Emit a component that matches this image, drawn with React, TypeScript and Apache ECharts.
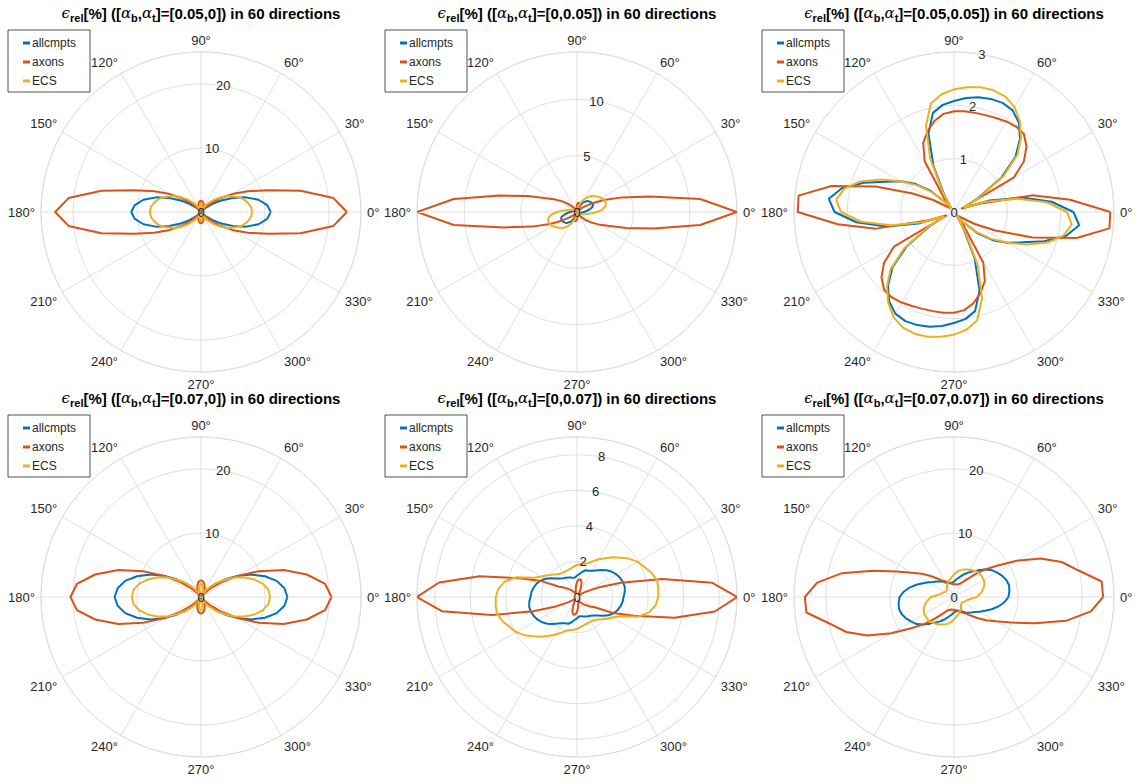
import React, { useEffect, useRef } from 'react';
import * as echarts from 'echarts';

// 60 gradient directions (degrees)
const DIRECTIONS = [
  0, 6, 12, 18, 24, 30, 36, 42, 48, 54, 60, 66, 72, 78, 84, 90, 96, 102, 108, 114,
  120, 126, 132, 138, 144, 150, 156, 162, 168, 174, 180, 186, 192, 198, 204, 210, 216, 222, 228, 234,
  240, 246, 252, 258, 264, 270, 276, 282, 288, 294, 300, 306, 312, 318, 324, 330, 336, 342, 348, 354,
];

const SERIES_NAMES = ['allcmpts', 'axons', 'ECS'];
const SERIES_COLORS = ['#0072BD', '#D95319', '#EDB120'];

const TITLE_PARAMS = ['[0.05,0]', '[0,0.05]', '[0.05,0.05]', '[0.07,0]', '[0,0.07]', '[0.07,0.07]'];
const R_MAX = [25, 14.2, 3, 25, 9, 25];
const R_TICK_STEP = [10, 5, 1, 10, 2, 10];

// ---- [0.05,0]
const p1Allcmpts = [
  10.9, 10.4, 9.2, 7.4, 5.4, 3.5, 2.1, 1.1, 0.5, 0.2, 0.1, 0.15, 0.25, 0.35, 0.4, 0.4, 0.4, 0.35, 0.25, 0.15, 0.1, 0.2, 0.5, 1.1, 2.1, 3.5, 5.4, 7.4, 9.2, 10.4,
  10.9, 10.4, 9.2, 7.4, 5.4, 3.5, 2.1, 1.1, 0.5, 0.2, 0.1, 0.15, 0.25, 0.35, 0.4, 0.4, 0.4, 0.35, 0.25, 0.15, 0.1, 0.2, 0.5, 1.1, 2.1, 3.5, 5.4, 7.4, 9.2, 10.4,
];
const p1Axons = [
  22.8, 20.8, 15.9, 11.0, 8.0, 5.6, 3.6, 2.0, 0.9, 0.3, 0.5, 0.9, 1.3, 1.55, 1.7, 1.75, 1.7, 1.55, 1.3, 0.9, 0.5, 0.3, 0.9, 2.0, 3.6, 5.6, 8.0, 11.0, 15.9, 20.8,
  22.8, 20.8, 15.9, 11.0, 8.0, 5.6, 3.6, 2.0, 0.9, 0.3, 0.5, 0.9, 1.3, 1.55, 1.7, 1.75, 1.7, 1.55, 1.3, 0.9, 0.5, 0.3, 0.9, 2.0, 3.6, 5.6, 8.0, 11.0, 15.9, 20.8,
];
const p1ECS = [
  8.0, 7.85, 7.4, 6.8, 5.9, 5.0, 4.0, 3.0, 2.1, 1.4, 0.8, 0.4, 0.3, 0.8, 1.3, 1.5, 1.3, 0.8, 0.3, 0.4, 0.8, 1.4, 2.1, 3.0, 4.0, 5.0, 5.9, 6.8, 7.4, 7.85,
  8.0, 7.85, 7.4, 6.8, 5.9, 5.0, 4.0, 3.0, 2.1, 1.4, 0.8, 0.4, 0.3, 0.8, 1.3, 1.5, 1.3, 0.8, 0.3, 0.4, 0.8, 1.4, 2.1, 3.0, 4.0, 5.0, 5.9, 6.8, 7.4, 7.85,
];

// ---- [0,0.05]
const p2Allcmpts = [
  0.6, 0.85, 1.15, 1.45, 1.55, 1.55, 1.5, 1.42, 1.3, 1.1, 0.9, 0.6, 0.35, 0.2, 0.12, 0.1, 0.1, 0.1, 0.1, 0.1, 0.1, 0.1, 0.1, 0.12, 0.15, 0.2, 0.25, 0.3, 0.38, 0.45,
  0.6, 0.85, 1.15, 1.45, 1.55, 1.55, 1.5, 1.42, 1.3, 1.1, 0.9, 0.6, 0.35, 0.2, 0.12, 0.1, 0.1, 0.1, 0.1, 0.1, 0.1, 0.1, 0.1, 0.12, 0.15, 0.2, 0.25, 0.3, 0.38, 0.45,
];
const p2Axons = [
  14.2, 11.0, 6.6, 4.2, 2.6, 1.5, 0.8, 0.4, 0.2, 0.2, 0.35, 0.55, 0.75, 0.85, 0.8, 0.65, 0.45, 0.25, 0.15, 0.1, 0.2, 0.4, 0.7, 1.1, 1.6, 2.2, 3.0, 4.6, 7.0, 11.0,
  14.2, 11.0, 6.6, 4.2, 2.6, 1.5, 0.8, 0.4, 0.2, 0.2, 0.35, 0.55, 0.75, 0.85, 0.8, 0.65, 0.45, 0.25, 0.15, 0.1, 0.2, 0.4, 0.7, 1.1, 1.6, 2.2, 3.0, 4.6, 7.0, 11.0,
];
const p2ECS = [
  1.8, 2.3, 2.6, 2.68, 2.65, 2.5, 2.3, 2.1, 1.9, 1.65, 1.35, 1.0, 0.7, 0.45, 0.3, 0.2, 0.15, 0.12, 0.1, 0.1, 0.12, 0.15, 0.2, 0.25, 0.3, 0.4, 0.5, 0.65, 0.85, 1.2,
  1.8, 2.3, 2.6, 2.68, 2.65, 2.5, 2.3, 2.1, 1.9, 1.65, 1.35, 1.0, 0.7, 0.45, 0.3, 0.2, 0.15, 0.12, 0.1, 0.1, 0.12, 0.15, 0.2, 0.25, 0.3, 0.4, 0.5, 0.65, 0.85, 1.2,
];

// ---- [0.05,0.05]
const p3Allcmpts = [
  2.24, 1.84, 1.3, 0.7, 0.2, 0.5, 1.1, 1.55, 1.85, 2.07, 2.2, 2.24, 2.23, 2.2, 2.15, 2.08, 2.02, 1.9, 1.55, 0.95, 0.35, 0.1, 0.25, 0.6, 0.9, 1.15, 1.4, 1.78, 2.15, 2.36,
  2.24, 1.84, 1.3, 0.7, 0.2, 0.5, 1.1, 1.55, 1.85, 2.07, 2.2, 2.24, 2.23, 2.2, 2.15, 2.08, 2.02, 1.9, 1.55, 0.95, 0.35, 0.1, 0.25, 0.6, 0.9, 1.15, 1.4, 1.78, 2.15, 2.36,
];
const p3Axons = [
  2.93, 2.19, 1.5, 0.5, 0.15, 1.3, 1.62, 1.83, 1.96, 1.98, 1.96, 1.93, 1.91, 1.9, 1.9, 1.89, 1.85, 1.75, 1.6, 1.42, 1.1, 0.3, 0.1, 0.1, 0.2, 0.45, 0.85, 1.55, 2.35, 2.93,
  2.93, 2.19, 1.5, 0.5, 0.15, 1.3, 1.62, 1.83, 1.96, 1.98, 1.96, 1.93, 1.91, 1.9, 1.9, 1.89, 1.85, 1.75, 1.6, 1.42, 1.1, 0.3, 0.1, 0.1, 0.2, 0.45, 0.85, 1.55, 2.35, 2.93,
];
const p3ECS = [
  2.12, 1.75, 1.2, 0.62, 0.2, 0.55, 1.15, 1.6, 1.88, 2.1, 2.27, 2.37, 2.4, 2.39, 2.35, 2.3, 2.22, 2.08, 1.7, 1.1, 0.4, 0.1, 0.25, 0.55, 0.85, 1.15, 1.5, 1.85, 2.1, 2.22,
  2.12, 1.75, 1.2, 0.62, 0.2, 0.55, 1.15, 1.6, 1.88, 2.1, 2.27, 2.37, 2.4, 2.39, 2.35, 2.3, 2.22, 2.08, 1.7, 1.1, 0.4, 0.1, 0.25, 0.55, 0.85, 1.15, 1.5, 1.85, 2.1, 2.22,
];

// ---- [0.07,0]
const p4Allcmpts = [
  13.5, 13.1, 12.1, 10.5, 8.6, 6.6, 4.7, 3.1, 1.8, 0.95, 0.4, 0.15, 0.2, 0.35, 0.45, 0.5, 0.45, 0.35, 0.2, 0.15, 0.4, 0.95, 1.8, 3.1, 4.7, 6.6, 8.6, 10.5, 12.1, 13.1,
  13.5, 13.1, 12.1, 10.5, 8.6, 6.6, 4.7, 3.1, 1.8, 0.95, 0.4, 0.15, 0.2, 0.35, 0.45, 0.5, 0.45, 0.35, 0.2, 0.15, 0.4, 0.95, 1.8, 3.1, 4.7, 6.6, 8.6, 10.5, 12.1, 13.1,
];
const p4Axons = [
  20.4, 19.5, 16.9, 13.6, 9.9, 6.6, 3.9, 2.0, 0.8, 0.4, 0.9, 1.4, 1.85, 2.25, 2.5, 2.6, 2.5, 2.25, 1.85, 1.4, 0.9, 0.4, 0.8, 2.0, 3.9, 6.6, 9.9, 13.6, 16.9, 19.5,
  20.4, 19.5, 16.9, 13.6, 9.9, 6.6, 3.9, 2.0, 0.8, 0.4, 0.9, 1.4, 1.85, 2.25, 2.5, 2.6, 2.5, 2.25, 1.85, 1.4, 0.9, 0.4, 0.8, 2.0, 3.9, 6.6, 9.9, 13.6, 16.9, 19.5,
];
const p4ECS = [
  10.8, 10.6, 9.9, 8.8, 7.5, 6.1, 4.6, 3.3, 2.2, 1.3, 0.7, 0.3, 0.5, 1.3, 1.9, 2.1, 1.9, 1.3, 0.5, 0.3, 0.7, 1.3, 2.2, 3.3, 4.6, 6.1, 7.5, 8.8, 9.9, 10.6,
  10.8, 10.6, 9.9, 8.8, 7.5, 6.1, 4.6, 3.3, 2.2, 1.3, 0.7, 0.3, 0.5, 1.3, 1.9, 2.1, 1.9, 1.3, 0.5, 0.3, 0.7, 1.3, 2.2, 3.3, 4.6, 6.1, 7.5, 8.8, 9.9, 10.6,
];

// ---- [0,0.07]
const p5Allcmpts = [
  2.62, 2.7, 2.75, 2.72, 2.65, 2.55, 2.42, 2.25, 2.05, 1.85, 1.7, 1.62, 1.58, 1.45, 1.3, 1.2, 1.1, 1.1, 1.15, 1.2, 1.25, 1.3, 1.4, 1.55, 1.8, 2.05, 2.25, 2.4, 2.5, 2.58,
  2.62, 2.7, 2.75, 2.72, 2.65, 2.55, 2.42, 2.25, 2.05, 1.85, 1.7, 1.62, 1.58, 1.45, 1.3, 1.2, 1.1, 1.1, 1.15, 1.2, 1.25, 1.3, 1.4, 1.55, 1.8, 2.05, 2.25, 2.4, 2.5, 2.58,
];
const p5Axons = [
  9.0, 7.65, 4.9, 2.6, 1.3, 0.6, 0.35, 0.2, 0.15, 0.15, 0.25, 0.5, 0.85, 1.0, 1.0, 0.85, 0.6, 0.35, 0.2, 0.2, 0.3, 0.4, 0.55, 0.7, 0.9, 1.16, 2.2, 3.4, 5.6, 7.8,
  9.0, 7.65, 4.9, 2.6, 1.3, 0.6, 0.35, 0.2, 0.15, 0.15, 0.25, 0.5, 0.85, 1.0, 1.0, 0.85, 0.6, 0.35, 0.2, 0.2, 0.3, 0.4, 0.55, 0.7, 0.9, 1.16, 2.2, 3.4, 5.6, 7.8,
];
const p5ECS = [
  4.57, 4.6, 4.6, 4.4, 4.15, 3.95, 3.65, 3.3, 3.0, 2.7, 2.45, 2.2, 2.0, 1.9, 1.85, 1.8, 1.72, 1.65, 1.6, 1.58, 1.58, 1.62, 1.72, 1.88, 2.08, 2.3, 2.65, 3.6, 4.15, 4.45,
  4.57, 4.6, 4.6, 4.4, 4.15, 3.95, 3.65, 3.3, 3.0, 2.7, 2.45, 2.2, 2.0, 1.9, 1.85, 1.8, 1.72, 1.65, 1.6, 1.58, 1.58, 1.62, 1.72, 1.88, 2.08, 2.3, 2.65, 3.6, 4.15, 4.45,
];

// ---- [0.07,0.07]
const p6Allcmpts = [
  8.5, 8.7, 8.8, 8.6, 8.2, 7.7, 7.2, 6.4, 5.6, 4.9, 4.4, 3.9, 3.4, 3.0, 2.7, 2.4, 2.3, 2.2, 2.25, 2.35, 2.6, 3.0, 3.3, 3.6, 4.0, 4.6, 5.3, 6.2, 7.1, 7.9,
  8.5, 8.7, 8.8, 8.6, 8.2, 7.7, 7.2, 6.4, 5.6, 4.9, 4.4, 3.9, 3.4, 3.0, 2.7, 2.4, 2.3, 2.2, 2.25, 2.35, 2.6, 3.0, 3.3, 3.6, 4.0, 4.6, 5.3, 6.2, 7.1, 7.9,
];
const p6Axons = [
  23.3, 23.2, 19.9, 17.7, 14.8, 11.3, 8.3, 6.4, 4.6, 3.4, 2.7, 2.3, 2.1, 2.0, 2.0, 2.0, 2.05, 2.15, 2.35, 2.6, 2.85, 3.2, 3.9, 4.9, 6.2, 7.6, 9.8, 13.3, 17.9, 21.5,
  23.3, 23.2, 19.9, 17.7, 14.8, 11.3, 8.3, 6.4, 4.6, 3.4, 2.7, 2.3, 2.1, 2.0, 2.0, 2.0, 2.05, 2.15, 2.35, 2.6, 2.85, 3.2, 3.9, 4.9, 6.2, 7.6, 9.8, 13.3, 17.9, 21.5,
];
const p6ECS = [
  3.6, 4.0, 4.5, 4.9, 5.2, 5.35, 5.4, 5.4, 5.3, 5.1, 4.9, 4.7, 4.5, 4.25, 3.9, 3.5, 3.15, 2.85, 2.6, 2.4, 2.2, 1.9, 1.6, 1.55, 1.55, 1.6, 1.75, 1.95, 2.2, 2.7,
  3.6, 4.0, 4.5, 4.9, 5.2, 5.35, 5.4, 5.4, 5.3, 5.1, 4.9, 4.7, 4.5, 4.25, 3.9, 3.5, 3.15, 2.85, 2.6, 2.4, 2.2, 1.9, 1.6, 1.55, 1.55, 1.6, 1.75, 1.95, 2.2, 2.7,
];

const PANEL_DATA = [
  [p1Allcmpts, p1Axons, p1ECS],
  [p2Allcmpts, p2Axons, p2ECS],
  [p3Allcmpts, p3Axons, p3ECS],
  [p4Allcmpts, p4Axons, p4ECS],
  [p5Allcmpts, p5Axons, p5ECS],
  [p6Allcmpts, p6Axons, p6ECS],
];

// layout (pixels)
const COL_X = [201, 577, 954];
const ROW_Y = [212, 597];
const LEGEND_X = [8, 385, 762];
const RADIUS = 160;
const GRID = '#dfdfdf';
const TXT = '#262626';
const FONT = 'Liberation Sans, Arial, Helvetica, sans-serif';

function buildOption() {
  const polar: any[] = [];
  const angleAxis: any[] = [];
  const radiusAxis: any[] = [];
  const series: any[] = [];
  const title: any[] = [];
  const legend: any[] = [];

  for (let k = 0; k < 6; k++) {
    const cx = COL_X[k % 3];
    const cy = ROW_Y[Math.floor(k / 3)];
    polar.push({ center: [cx, cy], radius: RADIUS });
    angleAxis.push({
      polarIndex: k,
      type: 'value',
      min: 0,
      max: 360,
      interval: 30,
      startAngle: 0,
      clockwise: false,
      axisLine: { show: true, lineStyle: { color: GRID, width: 1 } },
      axisTick: { show: false },
      axisLabel: {
        formatter: (v: number) => (v >= 360 ? '' : v + '°'),
        color: TXT,
        fontSize: 13,
        lineHeight: 12,
        fontFamily: FONT,
        margin: 6,
      },
      splitLine: { show: true, lineStyle: { color: GRID, width: 1 } },
      z: 0,
    });
    radiusAxis.push({
      polarIndex: k,
      type: 'value',
      min: 0,
      max: R_MAX[k],
      interval: R_TICK_STEP[k],
      axisLine: { show: false },
      axisTick: { show: false },
      axisLabel: { show: false },
      splitLine: { show: true, lineStyle: { color: GRID, width: 1 } },
      z: 0,
    });
    PANEL_DATA[k].forEach((vals, j) => {
      const data = vals.map((r, i) => [r, DIRECTIONS[i]]);
      data.push([vals[0], 360]);
      series.push({
        type: 'line',
        name: SERIES_NAMES[j],
        coordinateSystem: 'polar',
        polarIndex: k,
        data,
        showSymbol: false,
        symbol: 'none',
        smooth: false,
        color: SERIES_COLORS[j],
        lineStyle: { color: SERIES_COLORS[j], width: 2 },
        itemStyle: { color: SERIES_COLORS[j] },
        z: 3,
        silent: true,
      });
    });
    title.push({
      text: `{e|ϵ}{s|rel}{n|[%] ([}{e|α}{s|b}{n|,}{e|α}{s|t}{n|]=${TITLE_PARAMS[k]}) in 60 directions}`,
      left: cx,
      top: cy - 207,
      textAlign: 'center',
      padding: 0,
      textStyle: {
        fontWeight: 'normal',
        rich: {
          n: { fontSize: 15, fontWeight: 'bold', fontFamily: FONT, color: '#000', lineHeight: 16 },
          s: { fontSize: 11, fontWeight: 'bold', fontFamily: FONT, color: '#000', lineHeight: 10, padding: [10, 0, 0, 0] },
          e: { fontSize: 15, fontWeight: 'normal', fontStyle: 'italic', fontFamily: 'DejaVu Serif', color: '#000', lineHeight: 16 },
        },
      },
    });
    legend.push({
      orient: 'vertical',
      left: LEGEND_X[k % 3],
      top: cy - 182,
      data: SERIES_NAMES,
      icon: 'rect',
      itemWidth: 7,
      itemHeight: 3,
      itemGap: 7,
      padding: [7, 14, 5, 15],
      borderColor: '#262626',
      borderWidth: 0.8,
      backgroundColor: '#fff',
      selectedMode: false,
      textStyle: { color: TXT, fontSize: 12, fontFamily: FONT, lineHeight: 12, padding: [0, 0, 0, -3] },
    });
  }

  // second polar per panel: carries the radial tick labels along 80°
  for (let k = 0; k < 6; k++) {
    const cx = COL_X[k % 3];
    const cy = ROW_Y[Math.floor(k / 3)];
    polar.push({ center: [cx, cy], radius: RADIUS });
    angleAxis.push({
      polarIndex: 6 + k,
      type: 'value',
      min: 0,
      max: 360,
      startAngle: 80,
      clockwise: false,
      show: false,
    });
    radiusAxis.push({
      polarIndex: 6 + k,
      type: 'value',
      min: 0,
      max: R_MAX[k],
      interval: R_TICK_STEP[k],
      axisLine: { show: false },
      axisTick: { show: false },
      splitLine: { show: false },
      axisLabel: {
        show: true,
        color: TXT,
        fontSize: 13,
        fontFamily: FONT,
        margin: 0,
        align: 'center',
        verticalAlign: 'middle',
        showMaxLabel: k === 2,
        showMinLabel: true,
      },
      z: 4,
    });
  }

  return {
    animation: false,
    backgroundColor: '#ffffff',
    title,
    legend,
    polar,
    angleAxis,
    radiusAxis,
    series,
  };
}

export default function App() {
  const ref = useRef<HTMLDivElement>(null);
  useEffect(() => {
    document.body.style.margin = '0';
    if (!ref.current) return;
    const chart = echarts.init(ref.current, undefined, { renderer: 'svg' });
    chart.setOption(buildOption() as any);
    return () => chart.dispose();
  }, []);
  return <div ref={ref} style={{ width: 1142, height: 783 }} />;
}
